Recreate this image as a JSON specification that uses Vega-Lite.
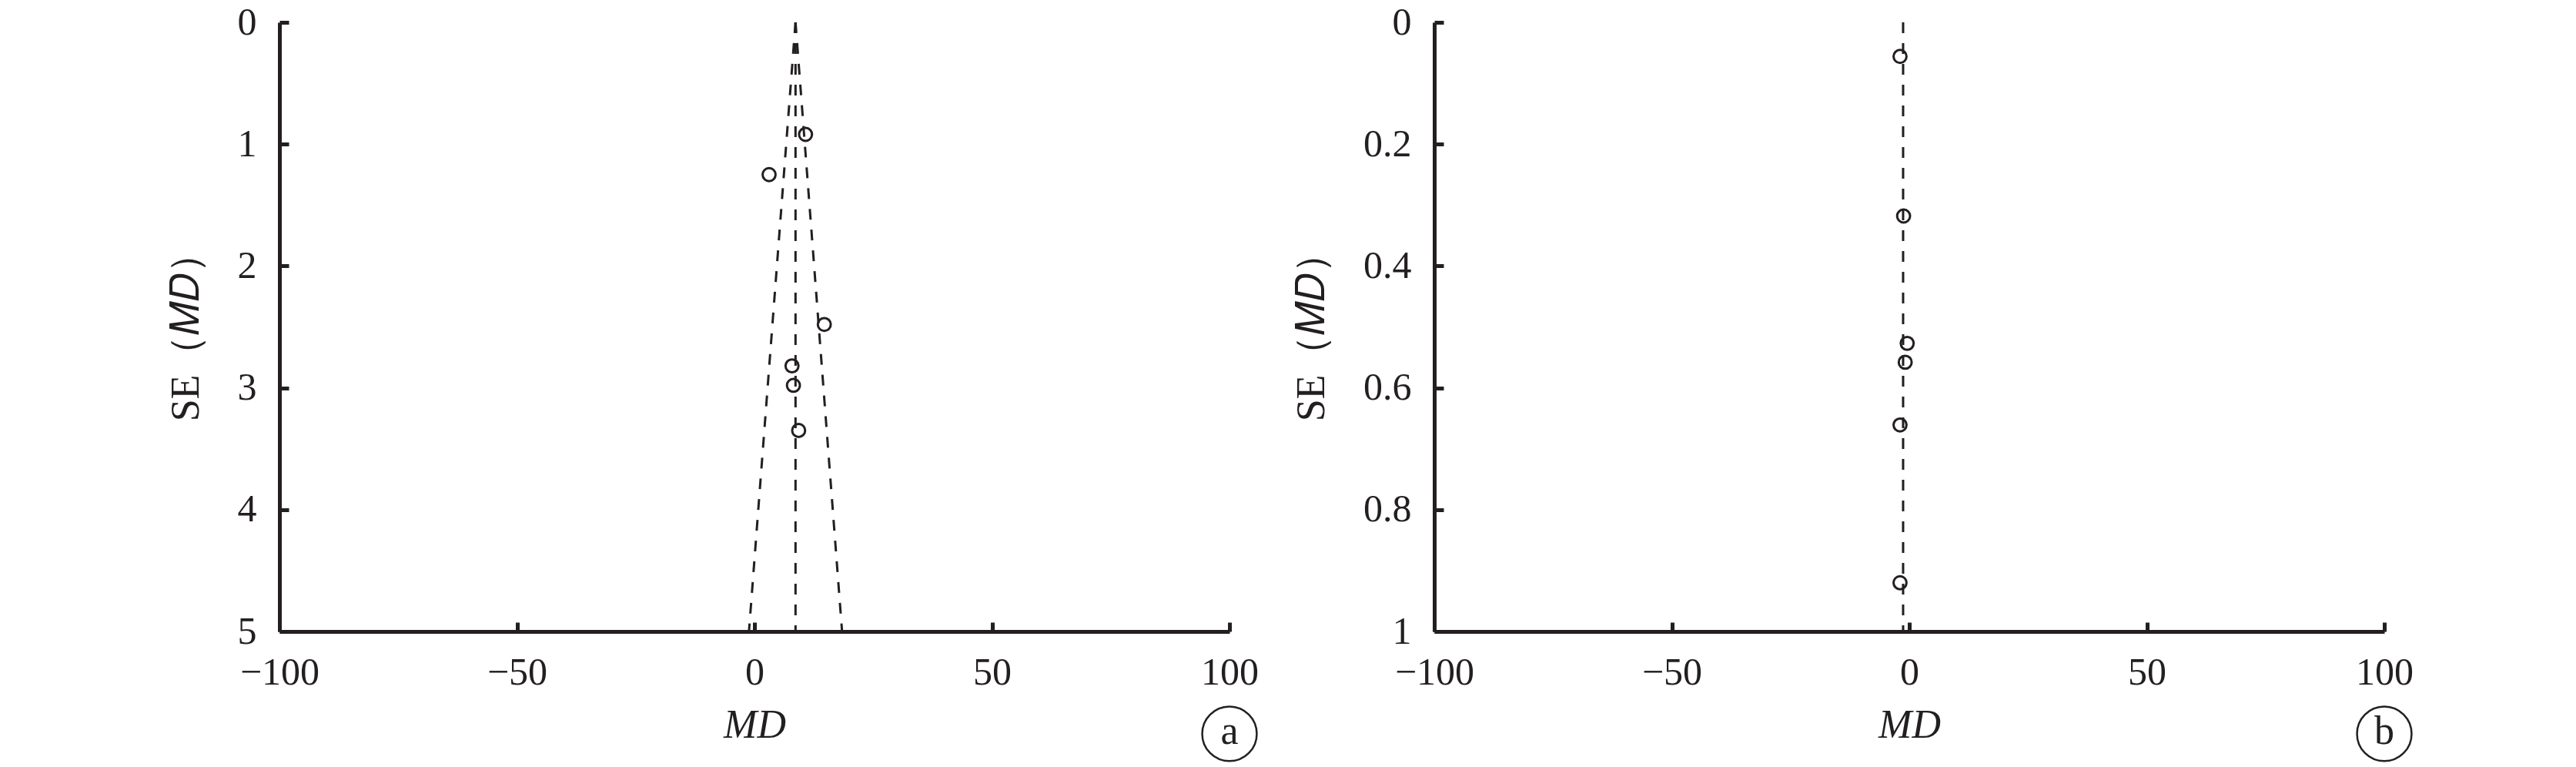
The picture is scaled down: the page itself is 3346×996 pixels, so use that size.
{
  "$schema": "https://vega.github.io/schema/vega-lite/v6.json",
  "background": "white",
  "padding": {"left": 215, "top": 4, "right": 0, "bottom": 0},
  "bounds": "flush",
  "spacing": 266,
  "config": {
    "view": {"stroke": null},
    "font": "Liberation Serif",
    "axis": {
      "grid": false,
      "domainColor": "#231f20",
      "domainWidth": 5,
      "tickColor": "#231f20",
      "tickWidth": 5,
      "tickSize": -12,
      "labelFont": "Liberation Serif",
      "labelFontSize": 50,
      "labelColor": "#231f20",
      "titleFont": "Liberation Serif",
      "titleFontSize": 52,
      "titleFontWeight": "normal",
      "titleColor": "#231f20"
    },
    "axisX": {"labelPadding": 40, "titlePadding": 18, "labelFlush": false},
    "axisY": {"labelPadding": 42, "titlePadding": 40}
  },
  "datasets": {
    "a_points": [
      {"md": 10.75, "se": 0.92},
      {"md": 3.08, "se": 1.25},
      {"md": 14.7, "se": 2.48},
      {"md": 7.9, "se": 2.82},
      {"md": 8.2, "se": 2.98},
      {"md": 9.3, "se": 3.35}
    ],
    "a_lines": [
      {"md": 8.64, "se": 0, "md2": -1.16, "se2": 5},
      {"md": 8.64, "se": 0, "md2": 8.64, "se2": 5},
      {"md": 8.64, "se": 0, "md2": 18.44, "se2": 5}
    ],
    "a_label": [{"md": 100, "se": 5.84, "t": "a"}],
    "b_points": [
      {"md": -1.95, "se": 0.056},
      {"md": -1.2, "se": 0.318},
      {"md": -0.44, "se": 0.527},
      {"md": -0.86, "se": 0.558},
      {"md": -1.95, "se": 0.661},
      {"md": -1.95, "se": 0.92}
    ],
    "b_lines": [
      {"md": -1.3, "se": 0, "md2": -1.3, "se2": 1}
    ],
    "b_label": [{"md": 100, "se": 1.168, "t": "b"}]
  },
  "hconcat": [
    {
      "width": 1234,
      "height": 791,
      "layer": [
        {
          "data": {"name": "a_lines"},
          "mark": {"type": "rule", "color": "#231f20", "strokeWidth": 3, "strokeDash": [14, 13]},
          "encoding": {
            "x": {"field": "md", "type": "quantitative", "scale": {"domain": [-100, 100], "nice": false, "zero": false}, "axis": {"values": [-100, -50, 0, 50, 100], "title": "MD", "titleFontStyle": "italic"}},
            "y": {"field": "se", "type": "quantitative", "scale": {"domain": [0, 5], "reverse": true, "nice": false}, "axis": {"values": [0, 1, 2, 3, 4, 5], "format": "d", "title": "SE（𝑀𝐷）"}},
            "x2": {"field": "md2"},
            "y2": {"field": "se2"}
          }
        },
        {
          "data": {"name": "a_points"},
          "mark": {"type": "point", "shape": "circle", "filled": false, "color": "#231f20", "strokeWidth": 3, "size": 284, "opacity": 1},
          "encoding": {
            "x": {"field": "md", "type": "quantitative"},
            "y": {"field": "se", "type": "quantitative"}
          }
        },
        {
          "data": {"name": "a_label"},
          "mark": {"type": "point", "shape": "circle", "filled": false, "color": "#231f20", "strokeWidth": 2.5, "size": 5027, "opacity": 1},
          "encoding": {
            "x": {"field": "md", "type": "quantitative"},
            "y": {"field": "se", "type": "quantitative"}
          }
        },
        {
          "data": {"name": "a_label"},
          "mark": {"type": "text", "font": "Liberation Serif", "fontSize": 52, "color": "#231f20", "baseline": "middle", "align": "center", "dy": -3},
          "encoding": {
            "x": {"field": "md", "type": "quantitative"},
            "y": {"field": "se", "type": "quantitative"},
            "text": {"field": "t"}
          }
        }
      ]
    },
    {
      "width": 1234,
      "height": 791,
      "layer": [
        {
          "data": {"name": "b_lines"},
          "mark": {"type": "rule", "color": "#231f20", "strokeWidth": 3, "strokeDash": [14, 13]},
          "encoding": {
            "x": {"field": "md", "type": "quantitative", "scale": {"domain": [-100, 100], "nice": false, "zero": false}, "axis": {"values": [-100, -50, 0, 50, 100], "title": "MD", "titleFontStyle": "italic"}},
            "y": {"field": "se", "type": "quantitative", "scale": {"domain": [0, 1], "reverse": true, "nice": false}, "axis": {"values": [0, 0.2, 0.4, 0.6, 0.8, 1], "format": ".1~f", "title": "SE（𝑀𝐷）"}},
            "x2": {"field": "md2"},
            "y2": {"field": "se2"}
          }
        },
        {
          "data": {"name": "b_points"},
          "mark": {"type": "point", "shape": "circle", "filled": false, "color": "#231f20", "strokeWidth": 3, "size": 284, "opacity": 1},
          "encoding": {
            "x": {"field": "md", "type": "quantitative"},
            "y": {"field": "se", "type": "quantitative"}
          }
        },
        {
          "data": {"name": "b_label"},
          "mark": {"type": "point", "shape": "circle", "filled": false, "color": "#231f20", "strokeWidth": 2.5, "size": 5027, "opacity": 1},
          "encoding": {
            "x": {"field": "md", "type": "quantitative"},
            "y": {"field": "se", "type": "quantitative"}
          }
        },
        {
          "data": {"name": "b_label"},
          "mark": {"type": "text", "font": "Liberation Serif", "fontSize": 52, "color": "#231f20", "baseline": "middle", "align": "center", "dy": -3},
          "encoding": {
            "x": {"field": "md", "type": "quantitative"},
            "y": {"field": "se", "type": "quantitative"},
            "text": {"field": "t"}
          }
        }
      ]
    }
  ]
}
